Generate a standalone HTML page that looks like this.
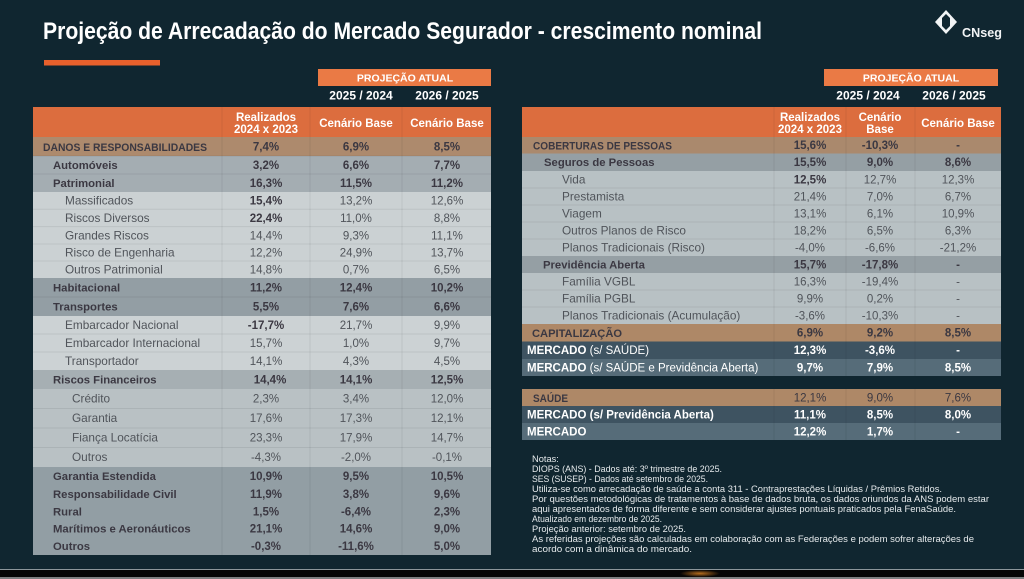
<!DOCTYPE html>
<html><head><meta charset="utf-8"><style>
html,body{margin:0;padding:0;background:#102630;}
svg{display:block;}
text{font-family:"Liberation Sans",sans-serif;}
.lb{font-size:11.3px;font-weight:bold;fill:#3b3842;}
.lu{font-size:11.4px;font-weight:bold;fill:#3b3842;}
.lr{font-size:11.8px;fill:#50545a;}
.v{font-size:11.5px;fill:#50545a;text-anchor:middle;}
.vd{font-size:11.5px;fill:#3b3842;text-anchor:middle;}
.vb{font-size:11.5px;font-weight:bold;fill:#3b3842;text-anchor:middle;}
.vw{font-size:11.5px;font-weight:bold;fill:#ffffff;text-anchor:middle;}
.h{font-size:11.5px;font-weight:bold;fill:#ffffff;text-anchor:middle;}
.n{font-size:9.3px;fill:#e6eaec;}
</style></head><body>
<svg width="1024" height="579" viewBox="0 0 1024 579" xmlns="http://www.w3.org/2000/svg">
<rect x="0" y="0" width="1024" height="579" fill="#102630"/>
<!-- title -->
<text x="43" y="39" font-size="24" font-weight="bold" fill="#ffffff" textLength="719" lengthAdjust="spacingAndGlyphs">Projeção de Arrecadação do Mercado Segurador - crescimento nominal</text>
<rect x="44" y="60" width="116" height="5.5" fill="#e8602c"/>
<!-- logo -->
<polygon points="935,22 946,10 957,22 946,34" fill="#f2f4f5"/>
<rect x="942" y="18" width="8" height="8" fill="#102630"/>
<polygon points="942,18 946,14 950,18" fill="#102630"/>
<polygon points="942,26 946,30 950,26" fill="#102630"/>
<text x="962" y="37" font-size="12.6" font-weight="bold" fill="#f2f4f5">CNseg</text>

<!-- LEFT TABLE header -->
<rect x="318" y="69" width="173" height="17" fill="#ea7a45"/>
<text x="405" y="81.5" font-size="10.5" font-weight="bold" fill="#fff" text-anchor="middle">PROJEÇÃO ATUAL</text>
<text x="361" y="99.5" font-size="12" font-weight="bold" fill="#fff" text-anchor="middle">2025 / 2024</text>
<text x="447" y="99.5" font-size="12" font-weight="bold" fill="#fff" text-anchor="middle">2026 / 2025</text>
<rect x="33" y="107" width="458" height="30" fill="#dc6d3e"/>
<text class="h" x="266" y="121">Realizados</text>
<text class="h" x="266" y="133">2024 x 2023</text>
<text class="h" x="356" y="127">Cenário Base</text>
<text class="h" x="447" y="127">Cenário Base</text>

<!-- left rows backgrounds -->
<rect x="33" y="137" width="458" height="19" fill="#ad8a6d"/>
<rect x="33" y="156" width="458" height="36" fill="#a4adb2"/>
<rect x="33" y="192" width="458" height="86" fill="#cbd1d3"/>
<rect x="33" y="278" width="458" height="38" fill="#939ea4"/>
<rect x="33" y="316" width="458" height="54" fill="#ccd2d4"/>
<rect x="33" y="370" width="458" height="19" fill="#a6afb3"/>
<rect x="33" y="389" width="458" height="78" fill="#b9c1c4"/>
<rect x="33" y="467" width="458" height="88" fill="#929ea4"/>
<!-- row lines -->
<g stroke="#000" stroke-opacity="0.07" stroke-width="1">
<line x1="33" x2="491" y1="156" y2="156"/><line x1="33" x2="491" y1="174" y2="174"/>
<line x1="33" x2="491" y1="209.3" y2="209.3"/><line x1="33" x2="491" y1="226.6" y2="226.6"/>
<line x1="33" x2="491" y1="244" y2="244"/><line x1="33" x2="491" y1="261" y2="261"/>
<line x1="33" x2="491" y1="297" y2="297"/><line x1="33" x2="491" y1="334" y2="334"/>
<line x1="33" x2="491" y1="352" y2="352"/><line x1="33" x2="491" y1="408.5" y2="408.5"/>
<line x1="33" x2="491" y1="428" y2="428"/><line x1="33" x2="491" y1="447.5" y2="447.5"/>
<line x1="222" x2="222" y1="107" y2="555"/><line x1="310" x2="310" y1="107" y2="555"/><line x1="402" x2="402" y1="107" y2="555"/>
</g>

<!-- left rows text -->
<text class="lu" x="43" y="151" textLength="164" lengthAdjust="spacingAndGlyphs">DANOS E RESPONSABILIDADES</text>
<text class="vb" x="266" y="150.5">7,4%</text><text class="vb" x="356" y="150.5">6,9%</text><text class="vb" x="447" y="150.5">8,5%</text>
<text class="lb" x="53" y="169">Automóveis</text>
<text class="vb" x="266" y="169">3,2%</text><text class="vb" x="356" y="169">6,6%</text><text class="vb" x="447" y="169">7,7%</text>
<text class="lb" x="53" y="187">Patrimonial</text>
<text class="vb" x="266" y="187">16,3%</text><text class="vb" x="356" y="187">11,5%</text><text class="vb" x="447" y="187">11,2%</text>
<text class="lr" x="65" y="204.7">Massificados</text>
<text class="vb" x="266" y="204.7">15,4%</text><text class="v" x="356" y="204.7">13,2%</text><text class="v" x="447" y="204.7">12,6%</text>
<text class="lr" x="65" y="222">Riscos Diversos</text>
<text class="vb" x="266" y="222">22,4%</text><text class="v" x="356" y="222">11,0%</text><text class="v" x="447" y="222">8,8%</text>
<text class="lr" x="65" y="239.3">Grandes Riscos</text>
<text class="v" x="266" y="239.3">14,4%</text><text class="v" x="356" y="239.3">9,3%</text><text class="v" x="447" y="239.3">11,1%</text>
<text class="lr" x="65" y="256.5">Risco de Engenharia</text>
<text class="v" x="266" y="256.5">12,2%</text><text class="v" x="356" y="256.5">24,9%</text><text class="v" x="447" y="256.5">13,7%</text>
<text class="lr" x="65" y="273.5">Outros Patrimonial</text>
<text class="v" x="266" y="273.5">14,8%</text><text class="v" x="356" y="273.5">0,7%</text><text class="v" x="447" y="273.5">6,5%</text>
<text class="lb" x="53" y="291.5">Habitacional</text>
<text class="vb" x="266" y="291.5">11,2%</text><text class="vb" x="356" y="291.5">12,4%</text><text class="vb" x="447" y="291.5">10,2%</text>
<text class="lb" x="53" y="310.5">Transportes</text>
<text class="vb" x="266" y="310.5">5,5%</text><text class="vb" x="356" y="310.5">7,6%</text><text class="vb" x="447" y="310.5">6,6%</text>
<text class="lr" x="65" y="329">Embarcador Nacional</text>
<text class="vb" x="266" y="329">-17,7%</text><text class="v" x="356" y="329">21,7%</text><text class="v" x="447" y="329">9,9%</text>
<text class="lr" x="65" y="347">Embarcador Internacional</text>
<text class="v" x="266" y="347">15,7%</text><text class="v" x="356" y="347">1,0%</text><text class="v" x="447" y="347">9,7%</text>
<text class="lr" x="65" y="365">Transportador</text>
<text class="v" x="266" y="365">14,1%</text><text class="v" x="356" y="365">4,3%</text><text class="v" x="447" y="365">4,5%</text>
<text class="lb" x="53" y="383.5">Riscos Financeiros</text>
<text class="vb" x="270" y="383.5">14,4%</text><text class="vb" x="356" y="383.5">14,1%</text><text class="vb" x="447" y="383.5">12,5%</text>
<text class="lr" x="72" y="402.7">Crédito</text>
<text class="v" x="266" y="402.7">2,3%</text><text class="v" x="356" y="402.7">3,4%</text><text class="v" x="447" y="402.7">12,0%</text>
<text class="lr" x="72" y="422.2">Garantia</text>
<text class="v" x="266" y="422.2">17,6%</text><text class="v" x="356" y="422.2">17,3%</text><text class="v" x="447" y="422.2">12,1%</text>
<text class="lr" x="72" y="441.7">Fiança Locatícia</text>
<text class="v" x="266" y="441.7">23,3%</text><text class="v" x="356" y="441.7">17,9%</text><text class="v" x="447" y="441.7">14,7%</text>
<text class="lr" x="72" y="461.2">Outros</text>
<text class="v" x="266" y="461.2">-4,3%</text><text class="v" x="356" y="461.2">-2,0%</text><text class="v" x="447" y="461.2">-0,1%</text>
<text class="lb" x="53" y="480">Garantia Estendida</text>
<text class="vb" x="266" y="480">10,9%</text><text class="vb" x="356" y="480">9,5%</text><text class="vb" x="447" y="480">10,5%</text>
<text class="lb" x="53" y="498">Responsabilidade Civil</text>
<text class="vb" x="266" y="498">11,9%</text><text class="vb" x="356" y="498">3,8%</text><text class="vb" x="447" y="498">9,6%</text>
<text class="lb" x="53" y="515.5">Rural</text>
<text class="vb" x="266" y="515.5">1,5%</text><text class="vb" x="356" y="515.5">-6,4%</text><text class="vb" x="447" y="515.5">2,3%</text>
<text class="lb" x="53" y="532.7">Marítimos e Aeronáuticos</text>
<text class="vb" x="266" y="532.7">21,1%</text><text class="vb" x="356" y="532.7">14,6%</text><text class="vb" x="447" y="532.7">9,0%</text>
<text class="lb" x="53" y="550.2">Outros</text>
<text class="vb" x="266" y="550.2">-0,3%</text><text class="vb" x="356" y="550.2">-11,6%</text><text class="vb" x="447" y="550.2">5,0%</text>

<!-- RIGHT TABLE header -->
<rect x="824" y="69" width="174" height="17" fill="#ea7a45"/>
<text x="911" y="81.5" font-size="10.5" font-weight="bold" fill="#fff" text-anchor="middle">PROJEÇÃO ATUAL</text>
<text x="868" y="99.5" font-size="12" font-weight="bold" fill="#fff" text-anchor="middle">2025 / 2024</text>
<text x="954" y="99.5" font-size="12" font-weight="bold" fill="#fff" text-anchor="middle">2026 / 2025</text>
<rect x="522" y="107" width="479" height="30" fill="#dc6d3e"/>
<text class="h" x="810" y="121">Realizados</text>
<text class="h" x="810" y="133">2024 x 2023</text>
<text class="h" x="880" y="121">Cenário</text>
<text class="h" x="880" y="133">Base</text>
<text class="h" x="958" y="127">Cenário Base</text>

<rect x="522" y="137" width="479" height="16.5" fill="#aa896d"/>
<rect x="522" y="153.5" width="479" height="17.5" fill="#959fa4"/>
<rect x="522" y="171" width="479" height="85" fill="#b8c1c4"/>
<rect x="522" y="256" width="479" height="17" fill="#959fa4"/>
<rect x="522" y="273" width="479" height="51" fill="#b8c1c4"/>
<rect x="522" y="324" width="479" height="17.5" fill="#ae8867"/>
<rect x="522" y="341.5" width="479" height="17.5" fill="#3e5361"/>
<rect x="522" y="359" width="479" height="17" fill="#566c79"/>
<rect x="522" y="389" width="479" height="17" fill="#ae8867"/>
<rect x="522" y="406" width="479" height="17" fill="#3e5361"/>
<rect x="522" y="423" width="479" height="17" fill="#566c79"/>
<g stroke="#000" stroke-opacity="0.07" stroke-width="1">
<line x1="522" x2="1001" y1="188" y2="188"/><line x1="522" x2="1001" y1="205" y2="205"/>
<line x1="522" x2="1001" y1="222" y2="222"/><line x1="522" x2="1001" y1="239" y2="239"/>
<line x1="522" x2="1001" y1="290" y2="290"/><line x1="522" x2="1001" y1="307" y2="307"/>
<line x1="774" x2="774" y1="107" y2="376"/><line x1="846" x2="846" y1="107" y2="376"/><line x1="915" x2="915" y1="107" y2="376"/>
<line x1="774" x2="774" y1="389" y2="440"/><line x1="846" x2="846" y1="389" y2="440"/><line x1="915" x2="915" y1="389" y2="440"/>
</g>

<text class="lu" x="533" y="149.6" textLength="139" lengthAdjust="spacingAndGlyphs">COBERTURAS DE PESSOAS</text>
<text class="vb" x="810" y="149.2">15,6%</text><text class="vb" x="880" y="149.2">-10,3%</text><text class="vb" x="958" y="149.2">-</text>
<text class="lb" x="544" y="166.2">Seguros de Pessoas</text>
<text class="vb" x="810" y="166.2">15,5%</text><text class="vb" x="880" y="166.2">9,0%</text><text class="vb" x="958" y="166.2">8,6%</text>
<text class="lr" x="562" y="183.5">Vida</text>
<text class="vb" x="810" y="183.5">12,5%</text><text class="v" x="880" y="183.5">12,7%</text><text class="v" x="958" y="183.5">12,3%</text>
<text class="lr" x="562" y="200.5">Prestamista</text>
<text class="v" x="810" y="200.5">21,4%</text><text class="v" x="880" y="200.5">7,0%</text><text class="v" x="958" y="200.5">6,7%</text>
<text class="lr" x="562" y="217.5">Viagem</text>
<text class="v" x="810" y="217.5">13,1%</text><text class="v" x="880" y="217.5">6,1%</text><text class="v" x="958" y="217.5">10,9%</text>
<text class="lr" x="562" y="234.5">Outros Planos de Risco</text>
<text class="v" x="810" y="234.5">18,2%</text><text class="v" x="880" y="234.5">6,5%</text><text class="v" x="958" y="234.5">6,3%</text>
<text class="lr" x="562" y="251.5">Planos Tradicionais (Risco)</text>
<text class="v" x="810" y="251.5">-4,0%</text><text class="v" x="880" y="251.5">-6,6%</text><text class="v" x="958" y="251.5">-21,2%</text>
<text class="lb" x="543" y="268.5">Previdência Aberta</text>
<text class="vb" x="810" y="268.5">15,7%</text><text class="vb" x="880" y="268.5">-17,8%</text><text class="vb" x="958" y="268.5">-</text>
<text class="lr" x="562" y="285.5">Família VGBL</text>
<text class="v" x="810" y="285.5">16,3%</text><text class="v" x="880" y="285.5">-19,4%</text><text class="v" x="958" y="285.5">-</text>
<text class="lr" x="562" y="302.5">Família PGBL</text>
<text class="v" x="810" y="302.5">9,9%</text><text class="v" x="880" y="302.5">0,2%</text><text class="v" x="958" y="302.5">-</text>
<text class="lr" x="562" y="319.5">Planos Tradicionais (Acumulação)</text>
<text class="v" x="810" y="319.5">-3,6%</text><text class="v" x="880" y="319.5">-10,3%</text><text class="v" x="958" y="319.5">-</text>
<text class="lu" x="532" y="337" textLength="90" lengthAdjust="spacingAndGlyphs">CAPITALIZAÇÃO</text>
<text class="vb" x="810" y="336.7">6,9%</text><text class="vb" x="880" y="336.7">9,2%</text><text class="vb" x="958" y="336.7">8,5%</text>
<text x="527" y="354.2" font-size="11.5" fill="#fff"><tspan font-weight="bold">MERCADO</tspan> (s/ SAÚDE)</text>
<text class="vw" x="810" y="354.2">12,3%</text><text class="vw" x="880" y="354.2">-3,6%</text><text class="vw" x="958" y="354.2">-</text>
<text x="527" y="371.5" font-size="11.5" fill="#fff"><tspan font-weight="bold">MERCADO</tspan> (s/ SAÚDE e Previdência Aberta)</text>
<text class="vw" x="810" y="371.5">9,7%</text><text class="vw" x="880" y="371.5">7,9%</text><text class="vw" x="958" y="371.5">8,5%</text>

<text class="lu" x="533" y="402" textLength="35" lengthAdjust="spacingAndGlyphs">SAÚDE</text>
<text class="vd" x="810" y="401.5">12,1%</text><text class="vd" x="880" y="401.5">9,0%</text><text class="vd" x="958" y="401.5">7,6%</text>
<text x="527" y="418.5" font-size="11.5" font-weight="bold" fill="#fff">MERCADO (s/ Previdência Aberta)</text>
<text class="vw" x="810" y="418.5">11,1%</text><text class="vw" x="880" y="418.5">8,5%</text><text class="vw" x="958" y="418.5">8,0%</text>
<text x="527" y="435.5" font-size="11.5" font-weight="bold" fill="#fff">MERCADO</text>
<text class="vw" x="810" y="435.5">12,2%</text><text class="vw" x="880" y="435.5">1,7%</text><text class="vw" x="958" y="435.5">-</text>

<!-- notes -->
<text class="n" x="532" y="462">Notas:</text>
<text class="n" x="532" y="472" textLength="190" lengthAdjust="spacingAndGlyphs">DIOPS (ANS) - Dados até: 3º trimestre de 2025.</text>
<text class="n" x="532" y="482" textLength="176" lengthAdjust="spacingAndGlyphs">SES (SUSEP) - Dados até setembro de 2025.</text>
<text class="n" x="532" y="492" textLength="410" lengthAdjust="spacingAndGlyphs">Utiliza-se como arrecadação de saúde a conta 311 - Contraprestações Líquidas / Prêmios Retidos.</text>
<text class="n" x="532" y="502" textLength="457" lengthAdjust="spacingAndGlyphs">Por questões metodológicas de tratamentos à base de dados bruta, os dados oriundos da ANS podem estar</text>
<text class="n" x="532" y="512" textLength="424" lengthAdjust="spacingAndGlyphs">aqui apresentados de forma diferente e sem considerar ajustes pontuais praticados pela FenaSaúde.</text>
<text class="n" x="532" y="522" textLength="130" lengthAdjust="spacingAndGlyphs">Atualizado em dezembro de 2025.</text>
<text class="n" x="532" y="532" textLength="154" lengthAdjust="spacingAndGlyphs">Projeção anterior: setembro de 2025.</text>
<text class="n" x="532" y="542" textLength="442" lengthAdjust="spacingAndGlyphs">As referidas projeções são calculadas em colaboração com as Federações e podem sofrer alterações de</text>
<text class="n" x="532" y="552" textLength="160" lengthAdjust="spacingAndGlyphs">acordo com a dinâmica do mercado.</text>

<!-- bottom strip -->
<defs>
<radialGradient id="glow" cx="0.5" cy="0.5" r="0.5">
<stop offset="0" stop-color="#c8781e" stop-opacity="0.9"/>
<stop offset="1" stop-color="#c8781e" stop-opacity="0"/>
</radialGradient>
</defs>
<rect x="0" y="569" width="1024" height="1" fill="#8c969b"/>
<rect x="0" y="570" width="1024" height="7" fill="#050505"/>
<rect x="680" y="570" width="40" height="7" fill="url(#glow)"/>
<rect x="0" y="577" width="1024" height="2" fill="#7d7f80"/>
</svg>
</body></html>
